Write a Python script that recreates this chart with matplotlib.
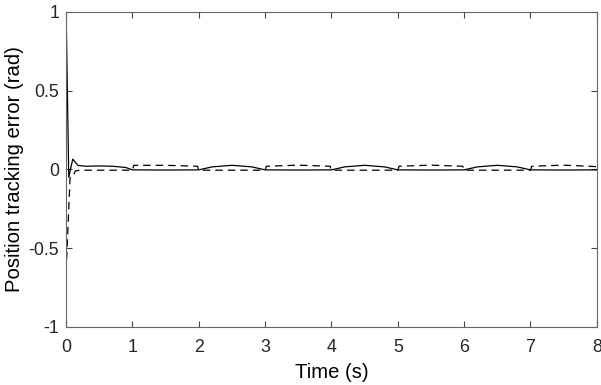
import matplotlib
matplotlib.use("Agg")
import matplotlib.pyplot as plt

plt.rcParams['font.family'] = ['Liberation Sans', 'DejaVu Sans']
plt.rcParams['axes.unicode_minus'] = False

# solid series (time, error)
t_solid = [0.0, 0.04, 0.1, 0.18, 0.3, 0.5, 0.7, 0.9, 1.0, 1.5, 2.0,
           2.2, 2.5, 2.8, 3.0, 3.5, 4.0, 4.2, 4.5, 4.8, 5.0, 5.5, 6.0,
           6.2, 6.5, 6.8, 7.0, 7.5, 8.0]
e_solid = [1.0, -0.05, 0.065, 0.025, 0.02, 0.022, 0.02, 0.012, -0.003, -0.004, -0.003,
           0.016, 0.026, 0.016, -0.003, -0.004, -0.003, 0.016, 0.026, 0.016, -0.003, -0.004, -0.003,
           0.016, 0.026, 0.016, -0.003, -0.004, -0.003]

# dashed series (time, error)
t_dash = [0.0, 0.06, 0.1, 0.14, 0.2, 0.5, 1.0, 1.02, 1.5, 1.98, 2.0,
          2.5, 3.0, 3.02, 3.5, 3.98, 4.0, 4.5, 5.0, 5.02, 5.5, 5.98, 6.0,
          6.5, 7.0, 7.02, 7.5, 7.98, 8.0]
e_dash = [-0.65, -0.05, -0.045, -0.01, -0.005, -0.005, -0.005, 0.026, 0.026, 0.02, -0.005,
          -0.005, -0.005, 0.02, 0.027, 0.02, -0.005, -0.005, -0.005, 0.02, 0.027, 0.02, -0.005,
          -0.005, -0.005, 0.02, 0.027, 0.018, 0.01]

fig = plt.figure(figsize=(6.01, 3.85), dpi=100)
ax = fig.add_axes([0.11, 0.151, 0.883, 0.818])

ax.plot(t_solid, e_solid, color='black', linewidth=0.9, linestyle='-')
ax.plot(t_dash, e_dash, color='black', linewidth=0.9, linestyle=(0, (6, 4)))

ax.set_xlim(0, 8)
ax.set_ylim(-1, 1)
ax.set_xticks(range(0, 9))
ax.set_yticks([-1, -0.5, 0, 0.5, 1])
ax.set_yticklabels(['-1', '-0.5', '0', '0.5', '1'])

ax.tick_params(direction='in', length=4, width=0.8, top=True, right=True,
               labelsize=12.8, labelcolor='#262626', color='#444444')
ax.tick_params(axis='x', pad=9)
ax.tick_params(axis='y', pad=5)
for sp in ax.spines.values():
    sp.set_color('#666666')
    sp.set_linewidth(0.8)

ax.set_xlabel('Time (s)', fontsize=14.6, labelpad=5)
ax.set_ylabel('Position tracking error (rad)', fontsize=14.6, labelpad=3)

fig.savefig('out.png', dpi=100)
